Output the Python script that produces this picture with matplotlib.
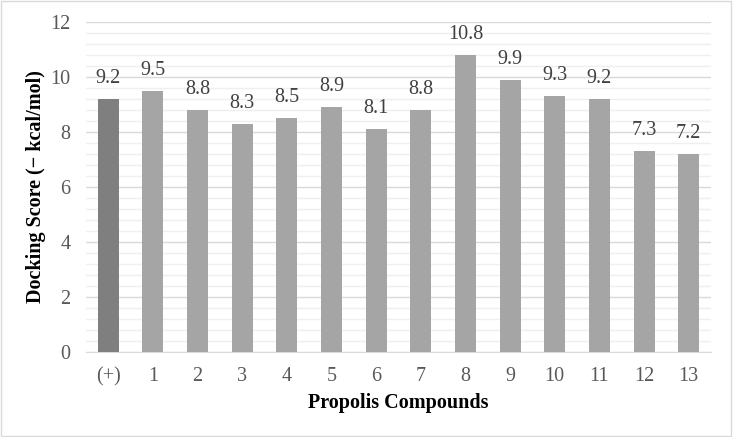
import numpy as np
import matplotlib.pyplot as plt
from matplotlib.patches import Rectangle
from matplotlib.ticker import MultipleLocator

compuestos = ['(+)', '1', '2', '3', '4', '5', '6', '7', '8', '9', '10', '11', '12', '13']
puntajes = [9.2, 9.5, 8.8, 8.3, 8.5, 8.9, 8.1, 8.8, 10.8, 9.9, 9.3, 9.2, 7.3, 7.2]

plt.rcParams['font.family'] = ['Liberation Serif', 'DejaVu Serif']

fig = plt.figure(figsize=(7.33, 4.37), dpi=100)
ax = fig.add_axes([0.1173, 0.1945, 0.8527, 0.755])

x = np.arange(len(compuestos))
colores = ['#7f7f7f'] + ['#a5a5a5'] * (len(compuestos) - 1)
barras = ax.bar(x, puntajes, width=0.47, color=colores, zorder=3)

for b, v in zip(barras, puntajes):
    ax.annotate(f'{v:.1f}', (b.get_x() + b.get_width() / 2, v), xytext=(0, 8),
                textcoords='offset points', ha='center', va='bottom',
                fontsize=14.5, color='#404040')

ax.set_ylim(0, 12)
ax.set_xlim(-0.5, len(compuestos) - 0.5)
ax.yaxis.set_major_locator(MultipleLocator(2))
ax.yaxis.set_minor_locator(MultipleLocator(0.4))
ax.grid(axis='y', which='major', color='#d9d9d9', linewidth=1, zorder=0)
ax.grid(axis='y', which='minor', color='#efefef', linewidth=1, zorder=0)
ax.tick_params(axis='both', which='both', length=0, labelsize=14.5, colors='#595959')
ax.tick_params(axis='x', pad=11)
ax.tick_params(axis='y', pad=11)
ax.set_xticks(x)
ax.set_xticklabels(compuestos)

for lado in ['top', 'right', 'left']:
    ax.spines[lado].set_visible(False)
ax.spines['bottom'].set_color('#d9d9d9')

ax.set_ylabel('Docking Score (\u2212 kcal/mol)', fontsize=14.5, fontweight='bold', color='black')
ax.yaxis.set_label_coords(-0.064, 0.5)
ax.set_xlabel('Propolis Compounds', fontsize=14.5, fontweight='bold', color='black', labelpad=5)

fig.patches.append(Rectangle((0.002, 0.003), 0.995, 0.994, transform=fig.transFigure,
                             fill=False, edgecolor='#d9d9d9', linewidth=1))

fig.savefig('out.png', dpi=100)
